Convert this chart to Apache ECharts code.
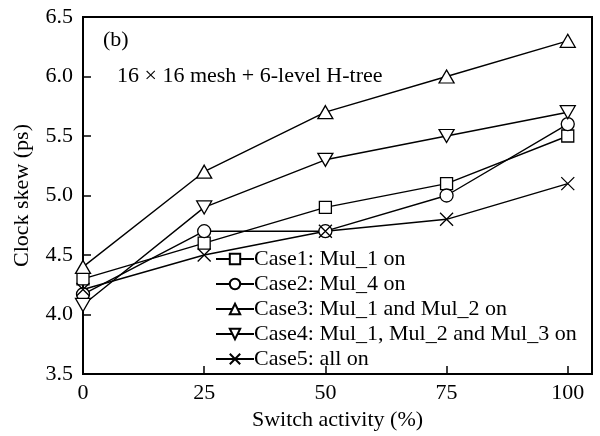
<!DOCTYPE html>
<html><head><meta charset="utf-8">
<script src="https://cdn.jsdelivr.net/npm/echarts@6/dist/echarts.min.js"></script>
<style>html,body{margin:0;padding:0;background:#fff}#c{width:600px;height:436px}</style>
</head><body><div id="c"></div>
<script>
var xValues = [0, 25, 50, 75, 100];
var xTicks = [0, 25, 50, 75, 100];
var case1 = [4.3, 4.6, 4.9, 5.1, 5.5];
var case2 = [4.17, 4.7, 4.7, 5.0, 5.6];
var case3 = [4.4, 5.2, 5.7, 6.0, 6.3];
var case4 = [4.08, 4.9, 5.3, 5.5, 5.7];
var case5 = [4.21, 4.5, 4.7, 4.8, 5.1];
var names = ['Case1: Mul_1 on', 'Case2: Mul_4 on', 'Case3: Mul_1 and Mul_2 on', 'Case4: Mul_1, Mul_2 and Mul_3 on', 'Case5: all on'];

var FONT = "'Liberation Serif', 'Times New Roman', serif";
var FS = 22;
function pts(arr){ return xValues.map(function(x,i){ return [x, arr[i]]; }); }
var symbols = [
  {symbol:'rect', size:12, rotate:0},
  {symbol:'circle', size:13, rotate:0},
  {symbol:'triangle', size:[15,13], rotate:0},
  {symbol:'triangle', size:[15,13], rotate:180},
  {symbol:'path://M0,0L10,10M10,0L0,10', size:13, rotate:0}
];
var data = [case1, case2, case3, case4, case5];
var series = data.map(function(d, i){
  return {
    name: names[i], type: 'line', data: pts(d),
    symbol: symbols[i].symbol, symbolSize: symbols[i].size, symbolRotate: symbols[i].rotate,
    showAllSymbol: true,
    lineStyle: {color:'#000', width:1.4},
    itemStyle: {color:'#fff', borderColor:'#000', borderWidth:1.3},
    emphasis: {disabled:true},
    animation: false, z: 2
  };
});
var chart = echarts.init(document.getElementById('c'), null, {renderer:'canvas'});
chart.setOption({
  animation: false,
  backgroundColor: '#fff',
  grid: {left:83, top:17, right:8, bottom:62, show:true, borderColor:'#000', borderWidth:2, backgroundColor:'transparent'},
  xAxis: {
    type:'value', min:0, max:105, interval:25,
    name:'Switch activity (%)', nameLocation:'middle', nameGap:25,
    nameTextStyle:{fontFamily:FONT, fontSize:FS, color:'#000', verticalAlign:'top'},
    axisLine:{show:true, lineStyle:{color:'#000', width:2}},
    axisTick:{show:true, inside:true, length:8, lineStyle:{color:'#000', width:1.5}, customValues: xTicks},
    axisLabel:{fontFamily:FONT, fontSize:FS, color:'#000', margin:8, customValues: xTicks},
    splitLine:{show:false}
  },
  yAxis: {
    type:'value', min:3.5, max:6.5, interval:0.5,
    name:'Clock skew (ps)', nameLocation:'middle', nameGap:50, nameRotate:90,
    nameTextStyle:{fontFamily:FONT, fontSize:FS, color:'#000'},
    axisLine:{show:true, lineStyle:{color:'#000', width:2}},
    axisTick:{show:true, inside:true, length:8, lineStyle:{color:'#000', width:1.5}},
    axisLabel:{fontFamily:FONT, fontSize:FS, color:'#000', margin:10, formatter:function(v){return v.toFixed(1);}},
    splitLine:{show:false}
  },
  legend: {
    orient:'vertical', left:215, top:248, itemWidth:38, itemHeight:13, itemGap:3,
    textStyle:{fontFamily:FONT, fontSize:FS, color:'#000', padding:[0,0,0,-5]},
    data: names, selectedMode:false, backgroundColor:'transparent', padding:0
  },
  graphic: [
    {type:'text', left:103, top:29, style:{text:'(b)', font:FS + 'px ' + FONT, fill:'#000'}},
    {type:'text', left:117, top:65, style:{text:'16 \u00d7 16 mesh + 6-level H-tree', font:FS + 'px ' + FONT, fill:'#000'}}
  ],
  series: series
});
</script></body></html>
